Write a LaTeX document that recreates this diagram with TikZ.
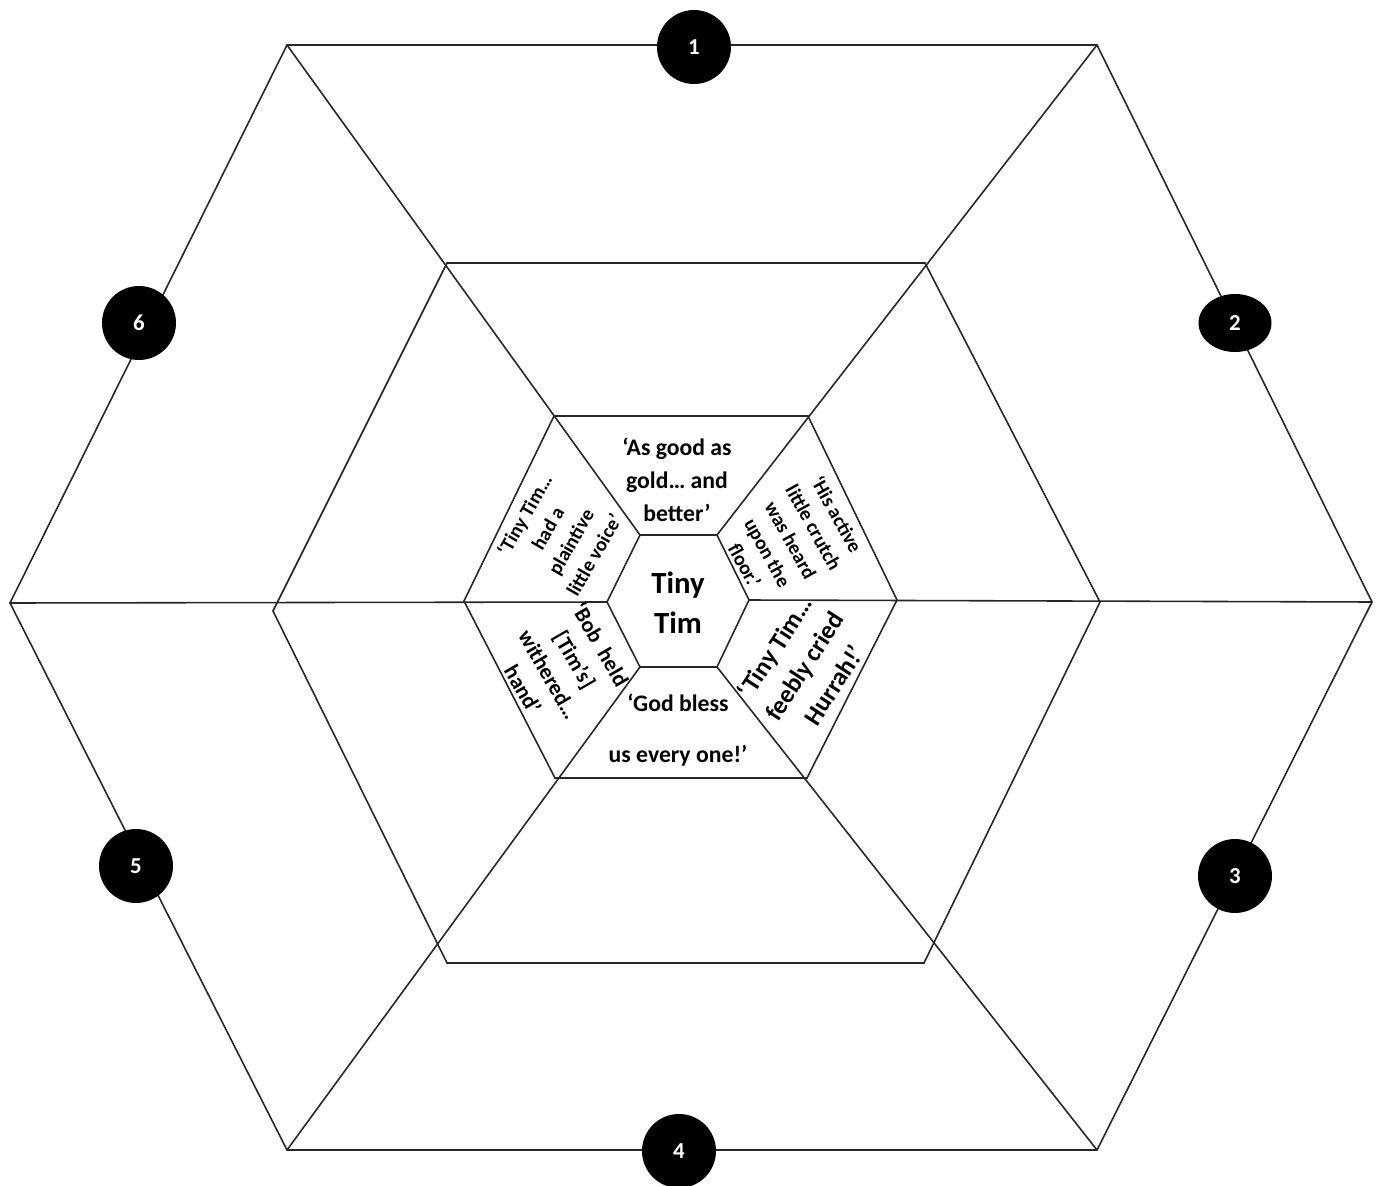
\documentclass[tikz,border=0pt]{standalone}
\usepackage{fontspec}
\setmainfont{Carlito}
\usepackage{tikz}
\usetikzlibrary{shapes.geometric}

\tikzset{
	web/.style={line width=0.9pt, draw=black!85},
	numdot/.style={circle, fill=black, text=white, minimum size=1.48cm, inner sep=0pt, font=\fontsize{13}{13}\selectfont\bfseries},
	quote/.style={align=center, inner sep=0pt, font=\bfseries}
}

\begin{document}
\begin{tikzpicture}[x=0.02cm, y=-0.02cm]
	\useasboundingbox (0,0) rectangle (1377,1186);
	% Corners of the four hexagons:
	\coordinate (o1) at (287,45);   \coordinate (o2) at (1097,45);  \coordinate (o3) at (1372,602);
	\coordinate (o4) at (1097,1150); \coordinate (o5) at (287,1150); \coordinate (o6) at (10,603);
	\coordinate (m1) at (447,263);  \coordinate (m2) at (925,263);  \coordinate (m3) at (1100,602);
	\coordinate (m4) at (924,963);  \coordinate (m5) at (447,963);  \coordinate (m6) at (273,611);
	\coordinate (i1) at (554,416);  \coordinate (i2) at (808,416);  \coordinate (i3) at (897,600);
	\coordinate (i4) at (807,778);  \coordinate (i5) at (555,778);  \coordinate (i6) at (464,601);
	\coordinate (c1) at (640,535);  \coordinate (c2) at (717,535);  \coordinate (c3) at (749,600);
	\coordinate (c4) at (717,667);  \coordinate (c5) at (640,667);  \coordinate (c6) at (607,602);
	% Hexagons and spokes:
	\draw[web] (o1) -- (o2) -- (o3) -- (o4) -- (o5) -- (o6) -- cycle;
	\draw[web] (m1) -- (m2) -- (m3) -- (m4) -- (m5) -- (m6) -- cycle;
	\draw[web] (i1) -- (i2) -- (i3) -- (i4) -- (i5) -- (i6) -- cycle;
	\draw[web] (c1) -- (c2) -- (c3) -- (c4) -- (c5) -- (c6) -- cycle;
	\draw[web] (o1) -- (c1);
	\draw[web] (o2) -- (c2);
	\draw[web] (o4) -- (c4);
	\draw[web] (o5) -- (c5);
	\draw[web] (o6) -- (c6);
	\draw[web] (c3) -- (o3);
	% Texts:
	\node[quote, font=\fontsize{17.5}{23}\selectfont\bfseries] (tim) at (678,603) {Tiny\\Tim};
	\node[quote, font=\fontsize{13.5}{18.7}\selectfont\bfseries] (qtop) at (677,480) {‘As good as\\gold… and\\better’};
	\node[quote, font=\fontsize{11.3}{15.2}\selectfont\bfseries, rotate=60] (qlu) at (559,535) {‘Tiny Tim…\\had a\\plaintive\\little voice’};
	\node[quote, font=\fontsize{11.3}{15}\selectfont\bfseries, rotate=-61] (qru) at (791,540) {‘His active\\little crutch\\was heard\\upon the\\floor.’};
	\node[quote, font=\fontsize{14.5}{20}\selectfont\bfseries, rotate=57] (qrl) at (804,666) {‘Tiny Tim…\\feebly cried\\Hurrah!’};
	\node[quote, font=\fontsize{12.5}{17}\selectfont\bfseries, rotate=-60] (qll) at (562,667) {‘Bob \ held\\{[}Tim’s{]}\\withered…\\hand’};
	\node[quote, font=\fontsize{13.5}{29}\selectfont\bfseries] (qbot) at (678,730) {‘God bless\\us every one!’};
	% Numbered dots:
	\node[numdot] (n1) at (694,47) {1};
	\node[numdot, ellipse, minimum width=1.46cm, minimum height=1.16cm] (n2) at (1235,323) {2};
	\node[numdot] (n3) at (1235,876) {3};
	\node[numdot] (n4) at (679,1151) {4};
	\node[numdot] (n5) at (136,866) {5};
	\node[numdot] (n6) at (139,323) {6};
\end{tikzpicture}
\end{document}
